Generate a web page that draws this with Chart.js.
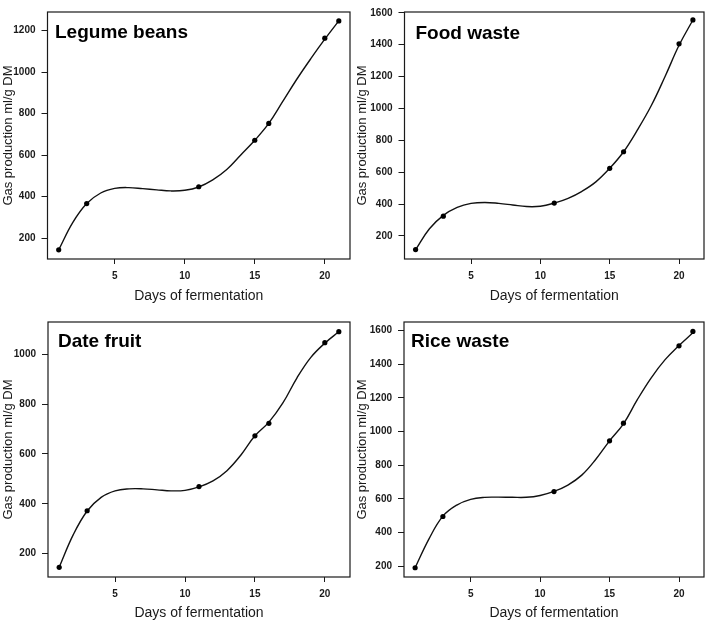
<!DOCTYPE html>
<html>
<head>
<meta charset="utf-8">
<script src="https://cdn.jsdelivr.net/npm/chart.js@4.4.1/dist/chart.umd.min.js"></script>
<style>
  html, body { margin: 0; padding: 0; background: #fff; }
  #page { position: relative; width: 708px; height: 625px; overflow: hidden; }
  .panel { position: absolute; }
</style>
</head>
<body>
<div id="page">
  <div class="panel" style="left:0;top:0;width:354px;height:310px"><canvas id="legume"></canvas></div>
  <div class="panel" style="left:354px;top:0;width:354px;height:310px"><canvas id="food"></canvas></div>
  <div class="panel" style="left:0;top:310px;width:354px;height:315px"><canvas id="date"></canvas></div>
  <div class="panel" style="left:354px;top:310px;width:354px;height:315px"><canvas id="rice"></canvas></div>
</div>
<script>
// measured days and gas production (ml/g DM)
const days = [1, 3, 11, 15, 16, 20, 21];
const legumePts = [144, 367, 448, 672, 753, 1164, 1247];
const foodPts   = [114, 324, 406, 624, 728, 1405, 1555];
const datePts   = [145, 372, 469, 673, 723, 1047, 1091];
const ricePts   = [190, 495, 643, 945, 1050, 1510, 1596];

// fitted curves
const fitDays = [1, 2, 3, 4, 5, 6, 7, 8, 9, 10, 11, 12, 13, 14, 15, 16, 17, 18, 19, 20, 21];
const legumeFit = [144, 275, 367, 418, 440, 444, 439, 433, 428, 431, 447, 481, 531, 601, 672, 753, 859, 966, 1065, 1159, 1247];
const foodFit   = [114, 245, 329, 379, 404, 410, 404, 394, 384, 386, 406, 436, 480, 539, 624, 728, 865, 1018, 1202, 1396, 1555];
const dateFit   = [145, 275, 371, 426, 452, 460, 460, 456, 452, 454, 468, 492, 533, 596, 673, 728, 805, 905, 988, 1045, 1091];
const riceFit   = [190, 362, 497, 563, 597, 609, 610, 609, 609, 620, 644, 682, 741, 834, 945, 1046, 1190, 1320, 1428, 1512, 1588];

const xTicks = [5, 10, 15, 20];
const yTicksLegume = [200, 400, 600, 800, 1000, 1200];
const yTicksFood = [200, 400, 600, 800, 1000, 1200, 1400, 1600];
const yTicksDate = [200, 400, 600, 800, 1000];
const yTicksRice = [200, 400, 600, 800, 1000, 1200, 1400, 1600];

const FONT = '"Liberation Sans", Arial, Helvetica, sans-serif';
const INK = '#1a1a1a';

// box around the plot + panel name inside it
const boxAndTitle = {
  id: 'boxAndTitle',
  afterDraw(chart, args, opts) {
    const { ctx, chartArea: a } = chart;
    ctx.save();
    ctx.strokeStyle = INK;
    ctx.lineWidth = 1.2;
    ctx.strokeRect(a.left, a.top, a.right - a.left, a.bottom - a.top);
    ctx.font = 'bold 19px ' + FONT;
    ctx.fillStyle = '#000';
    ctx.textBaseline = 'alphabetic';
    ctx.fillText(opts.text, a.left + opts.dx, a.top + opts.dy);
    ctx.restore();
  }
};

function toXY(xs, ys) {
  return xs.map((x, i) => ({ x: x, y: ys[i] }));
}

function makePanel(id, p) {
  new Chart(document.getElementById(id), {
    type: 'scatter',
    data: {
      datasets: [{
        data: toXY(days, p.pts),
        pointRadius: 2.6,
        pointBackgroundColor: '#000',
        pointBorderWidth: 0,
        showLine: false
      }, {
        data: toXY(fitDays, p.fit),
        showLine: true,
        tension: 0.4,
        borderColor: '#111',
        borderWidth: 1.4,
        pointRadius: 0
      }]
    },
    options: {
      responsive: true,
      maintainAspectRatio: false,
      animation: false,
      layout: { padding: p.pad },
      plugins: {
        legend: { display: false },
        tooltip: { enabled: false },
        boxAndTitle: { text: p.name, dx: p.dx, dy: p.dy }
      },
      scales: {
        x: {
          type: 'linear',
          min: 0.2,
          max: 21.8,
          afterBuildTicks: (axis) => { axis.ticks = xTicks.map(v => ({ value: v })); },
          afterFit: (axis) => { axis.height = p.xh; },
          grid: { drawOnChartArea: false, drawTicks: true, tickLength: 5, color: INK },
          border: { display: false },
          ticks: {
            color: INK, padding: 6,
            font: { family: FONT, size: 10, weight: 'bold' },
            callback: (v) => String(v)
          },
          title: {
            display: true,
            text: 'Days of fermentation',
            color: INK,
            font: { family: FONT, size: 14 },
            padding: { top: 0, bottom: p.xtb }
          }
        },
        y: {
          min: p.ymin,
          max: p.ymax,
          afterBuildTicks: (axis) => { axis.ticks = p.yticks.map(v => ({ value: v })); },
          afterFit: (axis) => { axis.width = p.yw; },
          grid: { drawOnChartArea: false, drawTicks: true, tickLength: 6, color: INK },
          border: { display: false },
          ticks: {
            color: INK, padding: 6,
            font: { family: FONT, size: 10, weight: 'bold' },
            callback: (v) => String(v)
          },
          title: {
            display: true,
            text: 'Gas production ml/g DM',
            color: INK,
            font: { family: FONT, size: 13 },
            padding: { top: 1, bottom: 0 }
          }
        }
      }
    },
    plugins: [boxAndTitle]
  });
}

makePanel('legume', {
  name: 'Legume beans', pts: legumePts, fit: legumeFit,
  ymin: 100, ymax: 1290, yticks: yTicksLegume,
  pad: { left: 0, right: 1, top: 5, bottom: 0 }, yw: 47.5, xh: 51, xtb: 5.5,
  dx: 7.5, dy: 26
});
makePanel('food', {
  name: 'Food waste', pts: foodPts, fit: foodFit,
  ymin: 55, ymax: 1605, yticks: yTicksFood,
  pad: { left: 0, right: 4, top: 5, bottom: 0 }, yw: 50.5, xh: 51, xtb: 5.5,
  dx: 11, dy: 27
});
makePanel('date', {
  name: 'Date fruit', pts: datePts, fit: dateFit,
  ymin: 106, ymax: 1130, yticks: yTicksDate,
  pad: { left: 0, right: 1, top: 12, bottom: 0 }, yw: 48, xh: 48, xtb: 3.5,
  dx: 10, dy: 25
});
makePanel('rice', {
  name: 'Rice waste', pts: ricePts, fit: riceFit,
  ymin: 135, ymax: 1652, yticks: yTicksRice,
  pad: { left: 0, right: 4, top: 12, bottom: 0 }, yw: 50, xh: 48, xtb: 3.5,
  dx: 7, dy: 25
});
</script>
</body>
</html>
